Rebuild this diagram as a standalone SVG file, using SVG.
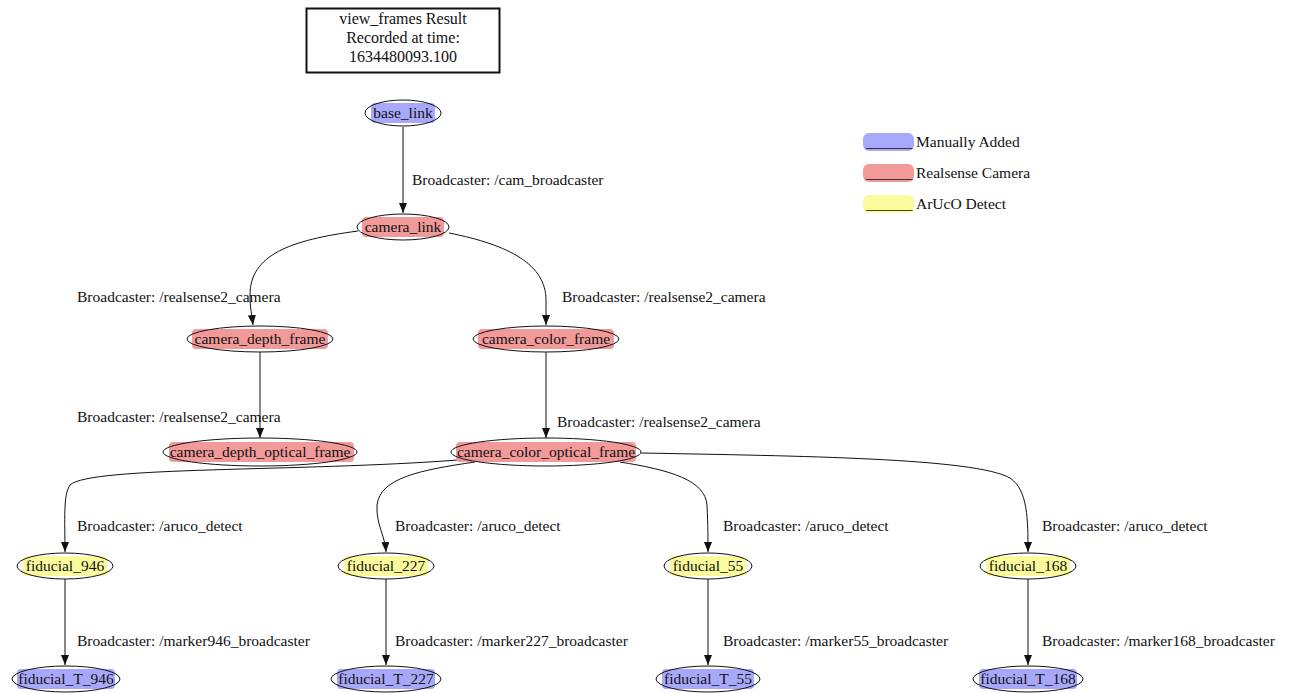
<svg xmlns="http://www.w3.org/2000/svg" width="1290" height="693" viewBox="0 0 1290 693">
  <style>
    text { font-family: "Liberation Serif", "Times New Roman", serif; font-size: 15.5px; fill: #111; }
    .title { font-size: 16px; }
    .lbl { text-anchor: middle; }
    .node ellipse { fill: none; stroke: #111; stroke-width: 1; }
    .man { fill: #a8a8fa; }
    .rs { fill: #f29a9a; }
    .aru { fill: #fbfb9e; }
    .edge { fill: none; stroke: #111; stroke-width: 1; marker-end: url(#arrow); }
  </style>
  <defs>
    <marker id="arrow" viewBox="0 0 10 8" refX="10" refY="4" markerWidth="10" markerHeight="8" markerUnits="userSpaceOnUse" orient="auto">
      <path d="M0,0 L10,4 L0,8 z" fill="#111"/>
    </marker>
  </defs>
  <rect width="1290" height="693" fill="#fff"/>

  <!-- header box -->
  <g id="header">
    <rect x="306.5" y="8.5" width="193" height="64" fill="#fff" stroke="#111" stroke-width="2"/>
    <text class="lbl title" x="403" y="24">view_frames Result</text>
    <text class="lbl title" x="403" y="43">Recorded at time:</text>
    <text class="lbl title" x="403" y="62">1634480093.100</text>
  </g>

  <!-- legend -->
  <g id="legend">
    <rect class="man" x="863" y="133" width="51" height="18" rx="6"/>
    <text x="866" y="147">______</text>
    <text x="916" y="147">Manually Added</text>
    <rect class="rs" x="863" y="164" width="51" height="18" rx="6"/>
    <text x="866" y="178">______</text>
    <text x="916" y="178">Realsense Camera</text>
    <rect class="aru" x="863" y="195" width="51" height="18" rx="6"/>
    <text x="866" y="209">______</text>
    <text x="916" y="209">ArUcO Detect</text>
  </g>

  <!-- connectors -->
  <g id="edges">
    <path class="edge" d="M403,127 L403,213"/>
    <path class="edge" d="M358,231 C290,240 250,255 250,295 C250,308 252,316 253,325"/>
    <path class="edge" d="M449,233 C510,245 546,265 546,300 L546,325"/>
    <path class="edge" d="M260,352 L260,438"/>
    <path class="edge" d="M546,352 L546,438"/>
    <path class="edge" d="M458,460 C300,472 90,466 70,485 C63,495 65,520 65,552"/>
    <path class="edge" d="M475,462 C420,470 380,478 377,505 C376,525 385,535 386,552"/>
    <path class="edge" d="M620,462 C670,470 705,480 707,505 C708,525 708,540 708,552"/>
    <path class="edge" d="M641,453 C800,456 975,458 1010,478 C1028,490 1028,520 1028,552"/>
    <path class="edge" d="M65,579 L65,665"/>
    <path class="edge" d="M386,579 L386,665"/>
    <path class="edge" d="M708,579 L708,665"/>
    <path class="edge" d="M1028,579 L1028,665"/>
  </g>

  <!-- connector labels -->
  <g id="edge-labels">
    <text x="412" y="185">Broadcaster: /cam_broadcaster</text>
    <text x="77" y="302">Broadcaster: /realsense2_camera</text>
    <text x="562" y="302">Broadcaster: /realsense2_camera</text>
    <text x="77" y="422">Broadcaster: /realsense2_camera</text>
    <text x="557" y="427">Broadcaster: /realsense2_camera</text>
    <text x="77" y="531">Broadcaster: /aruco_detect</text>
    <text x="395" y="531">Broadcaster: /aruco_detect</text>
    <text x="723" y="531">Broadcaster: /aruco_detect</text>
    <text x="1042" y="531">Broadcaster: /aruco_detect</text>
    <text x="77" y="646">Broadcaster: /marker946_broadcaster</text>
    <text x="395" y="646">Broadcaster: /marker227_broadcaster</text>
    <text x="723" y="646">Broadcaster: /marker55_broadcaster</text>
    <text x="1042" y="646">Broadcaster: /marker168_broadcaster</text>
  </g>

  <!-- nodes -->
  <g id="base_link" class="node">
    <rect class="man" x="371" y="103" width="64" height="20" rx="4"/>
    <ellipse cx="403" cy="113" rx="38" ry="13"/>
    <text class="lbl" x="403" y="118">base_link</text>
  </g>
  <g id="camera_link" class="node">
    <rect class="rs" x="362" y="217" width="82" height="20" rx="4"/>
    <ellipse cx="403" cy="227" rx="46" ry="13"/>
    <text class="lbl" x="403" y="232">camera_link</text>
  </g>
  <g id="camera_depth_frame" class="node">
    <rect class="rs" x="192" y="329" width="136" height="20" rx="4"/>
    <ellipse cx="260" cy="339" rx="73" ry="13"/>
    <text class="lbl" x="260" y="344">camera_depth_frame</text>
  </g>
  <g id="camera_color_frame" class="node">
    <rect class="rs" x="478" y="329" width="136" height="20" rx="4"/>
    <ellipse cx="546" cy="339" rx="73" ry="13"/>
    <text class="lbl" x="546" y="344">camera_color_frame</text>
  </g>
  <g id="camera_depth_optical_frame" class="node">
    <rect class="rs" x="169" y="442" width="185" height="20" rx="4"/>
    <ellipse cx="260" cy="452" rx="97" ry="14"/>
    <text class="lbl" x="260" y="457">camera_depth_optical_frame</text>
  </g>
  <g id="camera_color_optical_frame" class="node">
    <rect class="rs" x="456" y="442" width="180" height="20" rx="4"/>
    <ellipse cx="546" cy="452" rx="95" ry="14"/>
    <text class="lbl" x="546" y="457">camera_color_optical_frame</text>
  </g>
  <g id="fiducial_946" class="node">
    <rect class="aru" x="23" y="556" width="84" height="20" rx="4"/>
    <ellipse cx="65" cy="566" rx="48" ry="13"/>
    <text class="lbl" x="65" y="571">fiducial_946</text>
  </g>
  <g id="fiducial_227" class="node">
    <rect class="aru" x="344" y="556" width="84" height="20" rx="4"/>
    <ellipse cx="386" cy="566" rx="48" ry="13"/>
    <text class="lbl" x="386" y="571">fiducial_227</text>
  </g>
  <g id="fiducial_55" class="node">
    <rect class="aru" x="670" y="556" width="76" height="20" rx="4"/>
    <ellipse cx="708" cy="566" rx="44" ry="13"/>
    <text class="lbl" x="708" y="571">fiducial_55</text>
  </g>
  <g id="fiducial_168" class="node">
    <rect class="aru" x="986" y="556" width="84" height="20" rx="4"/>
    <ellipse cx="1028" cy="566" rx="48" ry="13"/>
    <text class="lbl" x="1028" y="571">fiducial_168</text>
  </g>
  <g id="fiducial_T_946" class="node">
    <rect class="man" x="17" y="669" width="98" height="20" rx="4"/>
    <ellipse cx="66" cy="679" rx="54" ry="13"/>
    <text class="lbl" x="66" y="684">fiducial_T_946</text>
  </g>
  <g id="fiducial_T_227" class="node">
    <rect class="man" x="337" y="669" width="98" height="20" rx="4"/>
    <ellipse cx="386" cy="679" rx="55" ry="13"/>
    <text class="lbl" x="386" y="684">fiducial_T_227</text>
  </g>
  <g id="fiducial_T_55" class="node">
    <rect class="man" x="662" y="669" width="92" height="20" rx="4"/>
    <ellipse cx="708" cy="679" rx="52" ry="13"/>
    <text class="lbl" x="708" y="684">fiducial_T_55</text>
  </g>
  <g id="fiducial_T_168" class="node">
    <rect class="man" x="979" y="669" width="98" height="20" rx="4"/>
    <ellipse cx="1028" cy="679" rx="55" ry="13"/>
    <text class="lbl" x="1028" y="684">fiducial_T_168</text>
  </g>
</svg>
